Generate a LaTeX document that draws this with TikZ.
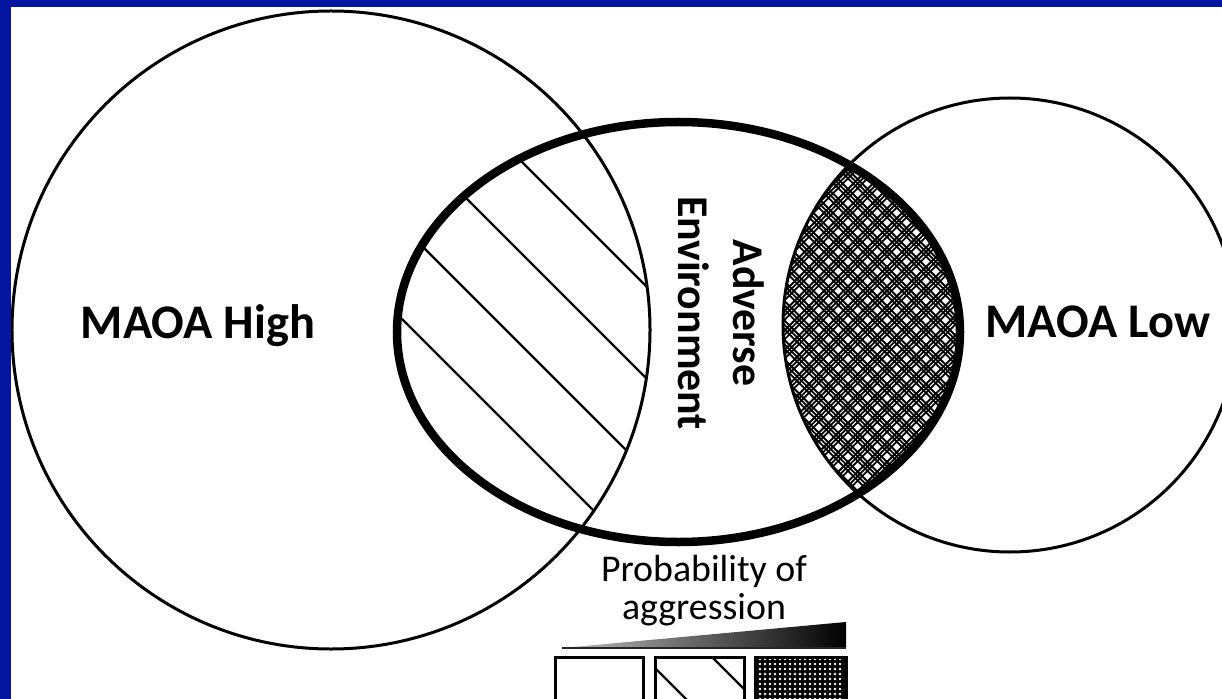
\documentclass[tikz,border=0pt]{standalone}
\usepackage{fontspec}
\setmainfont{Carlito}
\usetikzlibrary{patterns.meta}
\definecolor{frameblue}{RGB}{4,22,160}
\begin{document}
\begin{tikzpicture}[x=1bp,y=-1bp,
  thinline/.style={line width=3bp,black},
  envline/.style={line width=8.5bp,black},
  hatchline/.style={line width=2.4bp,black},
  xhline/.style={line width=1.8bp,black},
  bigbold/.style={font=\bfseries\fontsize{48.5}{50}\selectfont,inner sep=0pt},
  envtext/.style={font=\bfseries\fontsize{44}{55}\selectfont,align=center,inner sep=0pt},
  legtext/.style={font=\fontsize{38}{38}\selectfont,align=center,inner sep=0pt},
  legbox/.style={line width=3bp,black}]
\useasboundingbox (0,0) rectangle (1222,699);
\fill[frameblue] (0,0) rectangle (1222,699);
\fill[white] (11,7) rectangle (1222,699);
\begin{scope}
\clip (11,7) rectangle (1222,699);
% left lens hatch
\begin{scope}
  \clip (678.5,332) ellipse [x radius=281.5bp, y radius=210bp];
  \clip (331,330) circle [radius=319bp];
  \foreach \c in {-83,-176,-268,-360}
    \draw[hatchline] (300,300+\c) -- (750,750+\c);
\end{scope}
% right lens crosshatch
\begin{scope}
  \clip (678.5,332) ellipse [x radius=281.5bp, y radius=210bp];
  \clip (1010,325) circle [radius=227bp];
  \foreach \i in {0,...,30}{
    \foreach \d in {0,4.4,8.8}{
      \pgfmathsetmacro\c{-815+19.5*\i+\d}
      \draw[xhline] (760,760+\c) -- (980,980+\c);
      \pgfmathsetmacro\e{920+19.5*\i+\d}
      \draw[xhline] (760,\e-760) -- (980,\e-980);
    }}
\end{scope}
% circles and ellipse
\draw[thinline] (331,330) circle [radius=319bp];
\draw[thinline] (1010,325) circle [radius=227bp];
\draw[envline] (678.5,332) ellipse [x radius=281.5bp, y radius=210bp];
% labels
\node[bigbold,anchor=base] (high) at (198,338) {MAOA High};
\node[bigbold,anchor=base] (low) at (1098,337) {MAOA Low};
\node[envtext,rotate=-90] (env) at (721,313) {Adverse\\Environment};
% legend
\node[legtext,anchor=base] (prob) at (704,619) {Probability of\\aggression};
\shade[left color=gray!50,right color=black] (562,648) -- (846,622) -- (846,648) -- cycle;
\draw[black!85,line width=1.8bp] (562,648) -- (846,648);
\draw[legbox] (555,657) rectangle (643,720);
\begin{scope}
  \clip (655,657) rectangle (744,720);
  \draw[hatchline] (640,653) -- (720,733);
  \draw[hatchline] (700,645) -- (780,725);
\end{scope}
\draw[legbox] (655,657) rectangle (744,720);
\fill[black] (755,657) rectangle (846,720);
\fill[pattern={Dots[distance=5bp,radius=1.3bp]},pattern color=white] (757,659) rectangle (844,720);
\draw[legbox] (755,657) rectangle (846,720);
\end{scope}
\end{tikzpicture}
\end{document}
